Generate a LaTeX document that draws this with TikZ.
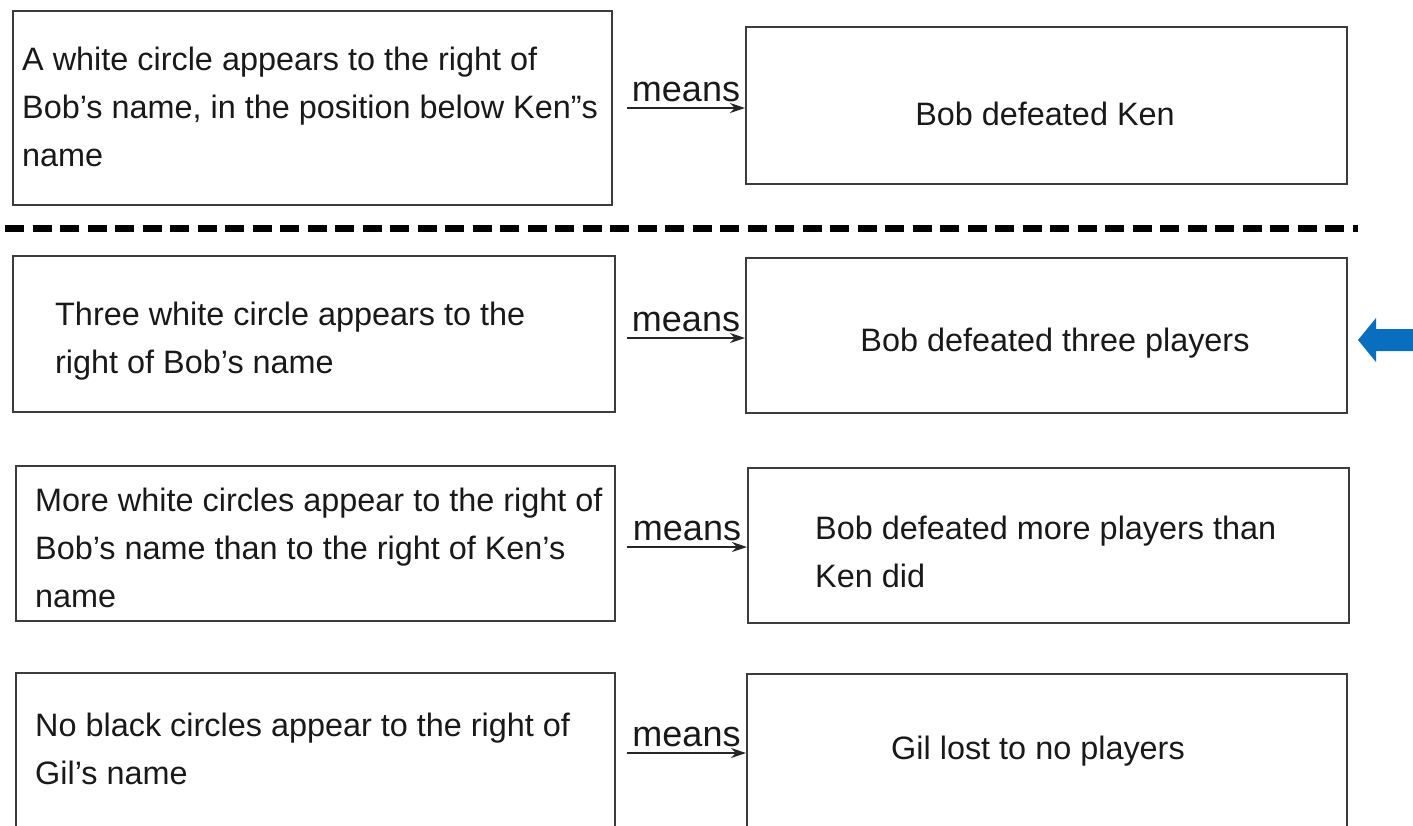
\documentclass[tikz,border=0pt]{standalone}
\usepackage{fontspec}
\setmainfont{Liberation Sans}
\usetikzlibrary{arrows.meta}
\definecolor{boxline}{RGB}{60,60,60}
\definecolor{pointer}{RGB}{10,110,190}
\begin{document}
\begin{tikzpicture}[x=1pt,y=-1pt,
  box/.style={draw=boxline, line width=2pt, rectangle, anchor=north west, inner sep=0pt},
  txt/.style={anchor=west, align=left, inner sep=0pt, font=\fontsize{32.4}{48}\selectfont, text=black!90},
  rtxt/.style={anchor=center, align=left, inner sep=0pt, font=\fontsize{32.4}{48}\selectfont, text=black!90},
  link/.style={-{Stealth[length=15pt,width=10pt]}, line width=1.6pt, black!85},
  word/.style={above, inner sep=5pt, font=\fontsize{36}{40}\selectfont, text=black!90}]
\useasboundingbox (0,0) rectangle (1413,825);
\clip (0,0) rectangle (1413,825);

% left-hand condition boxes
\node[box, minimum width=599pt, minimum height=194pt] (l1) at (12,10) {};
\node[box, minimum width=602pt, minimum height=156pt] (l2) at (12,255) {};
\node[box, minimum width=599pt, minimum height=155pt] (l3) at (15,465) {};
\node[box, minimum width=599pt, minimum height=180pt] (l4) at (15,672) {};

% right-hand meaning boxes
\node[box, minimum width=601pt, minimum height=157pt] (r1) at (745,26) {};
\node[box, minimum width=601pt, minimum height=155pt] (r2) at (745,257) {};
\node[box, minimum width=601pt, minimum height=155pt] (r3) at (747,467) {};
\node[box, minimum width=600pt, minimum height=180pt] (r4) at (746,673) {};

% condition texts
\node[txt] (l1t) at (22,107) {A white circle appears to the right of\\Bob’s name, in the position below Ken”s\\name};
\node[txt] (l2t) at (55,341) {Three white circle appears to the\\right of Bob’s name};
\node[txt] (l3t) at (35,548) {More white circles appear to the right of\\Bob’s name than to the right of Ken’s\\name};
\node[txt] (l4t) at (35,749) {No black circles appear to the right of\\Gil’s name};

% meaning texts
\node[rtxt] (r1t) at (1045,114) {Bob defeated Ken};
\node[rtxt] (r2t) at (1055,343) {Bob defeated three players};
\node[txt] (r3t) at (815,552) {Bob defeated more players than\\Ken did};
\node[rtxt] (r4t) at (1038,751) {Gil lost to no players};

% "means" connectors
\coordinate (a1) at (627,108);
\coordinate (a2) at (627,338);
\coordinate (a3) at (627,547);
\coordinate (a4) at (627,753);
\draw[link] (a1) -- (a1 -| r1.west) node[word, midway] (m1) {means};
\draw[link] (a2) -- (a2 -| r2.west) node[word, midway] (m2) {means};
\draw[link] (a3) -- (a3 -| r3.west) node[word, midway] (m3) {means};
\draw[link] (a4) -- (a4 -| r4.west) node[word, midway] (m4) {means};

% separator between the example and the statements
\coordinate (s1) at (5,228);
\coordinate (s2) at (1358,228);
\draw[line width=7pt, dash pattern=on 19pt off 8.5pt] (s1) -- (s2);

% blue pointer at the right margin
\coordinate (tip) at (1358,340);
\fill[pointer] (tip) -- (1376,318) -- (1376,329) -- (1413,329) -- (1413,351) -- (1376,351) -- (1376,362) -- cycle;
\end{tikzpicture}
\end{document}
